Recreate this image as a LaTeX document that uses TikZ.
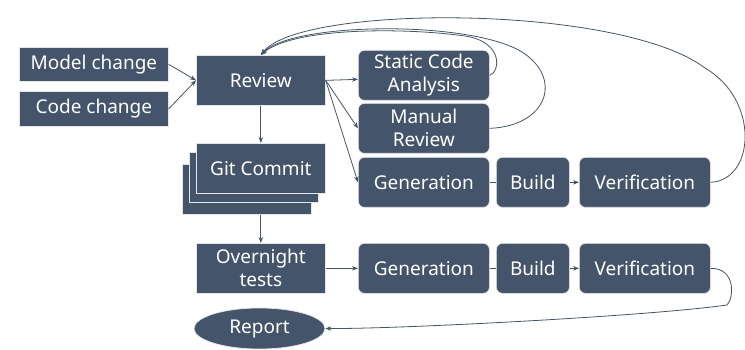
\documentclass[tikz,border=0pt]{standalone}
\usepackage{fontspec}
\setmainfont{Noto Sans}
\usetikzlibrary{arrows.meta,shapes.geometric}
\definecolor{slate}{HTML}{44546A}
\tikzset{
  box/.style={draw=white!85!slate,line width=0.7pt,fill=slate,text=white,inner sep=0pt,anchor=north west,align=center,font=\fontsize{19}{23}\selectfont},
  rbox/.style={box,rounded corners=6pt},
  conn/.style={draw=slate,line width=0.8pt},
  arr/.style={conn,-{Stealth[length=6pt,width=4.5pt]}}
}
\begin{document}
\begin{tikzpicture}[x=1pt,y=-1pt]
\useasboundingbox (0,0) rectangle (745,350);
% left column
\node[box,minimum width=149pt,minimum height=34pt] (model) at (19,47) {Model change};
\node[box,minimum width=149pt,minimum height=35pt] (code) at (19,91) {Code change};
\node[box,minimum width=129pt,minimum height=50pt] (review) at (196,55) {Review};
\node[box,minimum width=129pt,minimum height=50pt] (git3) at (182,164) {};
\node[box,minimum width=129pt,minimum height=50pt] (git2) at (189,152) {};
\node[box,minimum width=129pt,minimum height=50pt] (git) at (196,143) {Git Commit};
\node[box,minimum width=129pt,minimum height=50pt] (night) at (196,243) {Overnight\\tests};
\node[draw=white!85!slate,line width=0.7pt,fill=slate,text=white,ellipse,minimum width=131pt,minimum height=41pt,inner sep=0pt,font=\fontsize{19}{23}\selectfont] (report) at (259.5,328.5) {Report};
% right side
\node[rbox,minimum width=131pt,minimum height=50pt] (sca) at (358,50) {Static Code\\Analysis};
\node[rbox,minimum width=131pt,minimum height=50pt] (mr) at (358,103) {Manual\\Review};
\node[rbox,minimum width=131pt,minimum height=50pt] (gen1) at (358,157) {Generation};
\node[rbox,minimum width=73pt,minimum height=50pt] (build1) at (496,157) {Build};
\node[rbox,minimum width=131pt,minimum height=50pt] (ver1) at (579,157) {Verification};
\node[rbox,minimum width=131pt,minimum height=50pt] (gen2) at (358,243) {Generation};
\node[rbox,minimum width=73pt,minimum height=50pt] (build2) at (496,243) {Build};
\node[rbox,minimum width=131pt,minimum height=50pt] (ver2) at (579,243) {Verification};
% connectors
\draw[arr] (model.east) -- (review.west);
\draw[arr] (code.east) -- (review.west);
\draw[arr] (review.east) -- ([yshift=-4pt]sca.west);
\draw[arr] (review.east) -- (mr.west);
\draw[arr] (review.east) -- (gen1.west);
\draw[arr] (review.south) -- (git.north);
\draw[arr] (git3.south -| night.north) -- (night.north);
\draw[arr] (night.east) -- (gen2.west);
\draw[conn] (gen1.east) -- (build1.west);
\draw[arr] (build1.east) -- (ver1.west);
\draw[conn] (gen2.east) -- (build2.west);
\draw[arr] (build2.east) -- (ver2.west);
% feedback loops
\draw[arr] (sca.east) .. controls (500,72) and (504,42) .. (465,36) .. controls (400,27) and (292,28) .. (review.north);
\draw[arr] (mr.east) .. controls (548,126) and (563,78) .. (522,52) .. controls (470,20) and (292,22) .. (review.north);
\draw[arr] (ver1.east) .. controls (755,180) and (760,100) .. (705,68) .. controls (620,4) and (300,4) .. (review.north);
\draw[arr] (ver2.east) .. controls (736,268) and (734,298) .. (727,305) .. controls (650,316) and (400,329) .. (report.east);
\end{tikzpicture}
\end{document}
